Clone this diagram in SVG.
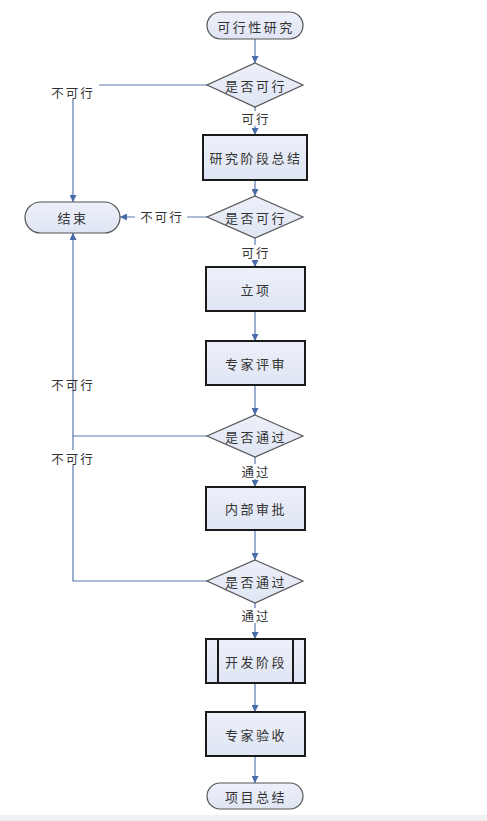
<svg xmlns="http://www.w3.org/2000/svg" width="487" height="821" viewBox="0 0 487 821">
<style>
.box{fill:url(#g);stroke:#1a1a1a;stroke-width:2}
.term{fill:url(#g);stroke:#555;stroke-width:1.2}
.dia{fill:url(#g);stroke:#555;stroke-width:1.2}
.t{font-family:"Noto Sans CJK SC","Noto Sans",sans-serif;font-size:13px;fill:#333;text-anchor:middle;dominant-baseline:central;letter-spacing:2.5px}
.l{font-family:"Noto Sans CJK SC","Noto Sans",sans-serif;font-size:12.5px;fill:#333;text-anchor:middle;dominant-baseline:central;letter-spacing:2px}
.c{fill:none;stroke:#5a77ad;stroke-width:1.2}
.bg{fill:#fff}
</style>
<defs>
<linearGradient id="g" x1="0" y1="0" x2="0" y2="1">
<stop offset="0" stop-color="#edf0f9"/>
<stop offset="1" stop-color="#dfe5f4"/>
</linearGradient>
<marker id="a" viewBox="0 0 10 10" refX="10" refY="5" markerWidth="7" markerHeight="7" markerUnits="userSpaceOnUse" orient="auto">
<path d="M0,0 L10,5 L0,10 Z" fill="#4a6aa8"/>
</marker>
</defs>
<rect x="0" y="0" width="487" height="821" fill="#fff"/>
<rect x="0" y="815" width="487" height="6" fill="#eef0f3"/>
<g id="connectors">
<path class="c" d="M255,39 V63" marker-end="url(#a)"/>
<path class="c" d="M255,107 V135" marker-end="url(#a)"/>
<path class="c" d="M255,180 V196" marker-end="url(#a)"/>
<path class="c" d="M255,238 V267" marker-end="url(#a)"/>
<path class="c" d="M255,311 V341" marker-end="url(#a)"/>
<path class="c" d="M255,385 V415" marker-end="url(#a)"/>
<path class="c" d="M255,457 V487" marker-end="url(#a)"/>
<path class="c" d="M255,530 V560" marker-end="url(#a)"/>
<path class="c" d="M255,603 V639" marker-end="url(#a)"/>
<path class="c" d="M255,683 V712" marker-end="url(#a)"/>
<path class="c" d="M255,756 V783" marker-end="url(#a)"/>
<path class="c" d="M207,85 H73 V202" marker-end="url(#a)"/>
<path class="c" d="M207,217 H120" marker-end="url(#a)"/>
<path class="c" d="M207,436 H73 V233" marker-end="url(#a)"/>
<path class="c" d="M207,581 H73 V436"/>
<rect class="bg" x="238" y="111" width="34" height="15"/>
<text class="l" x="256" y="118">可行</text>
<rect class="bg" x="238" y="245" width="34" height="15"/>
<text class="l" x="256" y="252">可行</text>
<rect class="bg" x="238" y="464" width="34" height="15"/>
<text class="l" x="256" y="471">通过</text>
<rect class="bg" x="238" y="608" width="34" height="15"/>
<text class="l" x="256" y="615">通过</text>
<rect class="bg" x="46" y="84" width="53" height="15"/>
<text class="l" x="73" y="92">不可行</text>
<rect class="bg" x="135" y="209" width="52" height="15"/>
<text class="l" x="162" y="216">不可行</text>
<text class="l" x="73" y="384">不可行</text>
<rect class="bg" x="46" y="450" width="53" height="15"/>
<text class="l" x="73" y="458">不可行</text>
</g>
<g id="n-start"><rect class="term" x="207" y="12" width="96" height="27" rx="13.5"/><text class="t" x="256" y="26">可行性研究</text></g>
<g id="d1"><polygon class="dia" points="255,63 303,85 255,107 207,85"/><text class="t" x="256" y="85">是否可行</text></g>
<g id="n-summary"><rect class="box" x="203" y="135" width="104" height="45"/><text class="t" x="256" y="157">研究阶段总结</text></g>
<g id="d2"><polygon class="dia" points="255,196 303,217 255,238 207,217"/><text class="t" x="256" y="217">是否可行</text></g>
<g id="n-end"><rect class="term" x="25" y="202" width="95" height="31" rx="15.5"/><text class="t" x="73" y="217">结束</text></g>
<g id="n-lixiang"><rect class="box" x="206" y="267" width="99" height="44"/><text class="t" x="256" y="289">立项</text></g>
<g id="n-review"><rect class="box" x="206" y="341" width="99" height="44"/><text class="t" x="256" y="363">专家评审</text></g>
<g id="d3"><polygon class="dia" points="255,415 303,436 255,457 207,436"/><text class="t" x="256" y="436">是否通过</text></g>
<g id="n-internal"><rect class="box" x="206" y="487" width="99" height="43"/><text class="t" x="256" y="508">内部审批</text></g>
<g id="d4"><polygon class="dia" points="255,560 303,581 255,603 207,581"/><text class="t" x="256" y="581">是否通过</text></g>
<g id="n-dev"><rect class="box" x="206" y="639" width="99" height="44"/><line x1="218" y1="639" x2="218" y2="683" stroke="#1a1a1a" stroke-width="2"/><line x1="293" y1="639" x2="293" y2="683" stroke="#1a1a1a" stroke-width="2"/><text class="t" x="256" y="661">开发阶段</text></g>
<g id="n-accept"><rect class="box" x="206" y="712" width="99" height="44"/><text class="t" x="256" y="734">专家验收</text></g>
<g id="n-final"><rect class="term" x="207" y="783" width="96" height="26" rx="13"/><text class="t" x="256" y="796">项目总结</text></g>
</svg>
